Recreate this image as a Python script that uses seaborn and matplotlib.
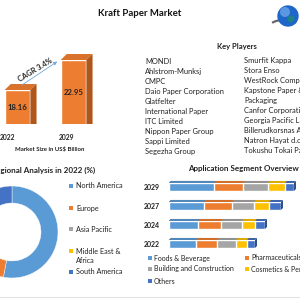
import numpy as np
import pandas as pd
import seaborn as sns
import matplotlib.pyplot as plt
from matplotlib.patches import Polygon, Circle, Arc
import matplotlib.colors as mcolors

sns.set_style('white')
plt.rcParams['font.family'] = ['Lato', 'DejaVu Sans']

# market size
years = ['2022', '2029']
market_size = [18.16, 22.95]
cagr_text = 'CAGR 3.4%'

# key players
players_left = ['MONDI', 'Ahlstrom-Munksj', 'CMPC', 'Daio Paper Corporation', 'Glatfelter',
                'International Paper', 'ITC Limited', 'Nippon Paper Group', 'Sappi Limited',
                'Segezha Group']
players_right = ['Smurfit Kappa', 'Stora Enso', 'WestRock Company', 'Kapstone Paper &',
                 'Packaging', 'Canfor Corporation', 'Georgia Pacific LLC',
                 'Billerudkorsnas AB', 'Natron Hayat d.o.o', 'Tokushu Tokai Paper']

# regional share 2022 (%)
regions = ['North America', 'Europe', 'Asia Pacific', 'Middle East &\nAfrica', 'South America']
region_share = [53, 19, 17, 4, 7]

# application segments
app_years = ['2029', '2027', '2024', '2022']
segments = ['Foods & Beverage', 'Pharmaceuticals', 'Building and Construction',
            'Cosmetics & Personal Care', 'Others']
foods = [45, 35, 29, 27]
pharma = [29, 28, 23, 21]
building = [25, 22, 21, 19]
cosmetics = [17, 15, 13, 11]
others = [9, 12, 10, 8]

pal = ['#5B9BD5', '#ED7D31', '#A5A5A5', '#FFC000', '#4472C4']


def shade(c, f):
    r, g, b = mcolors.to_rgb(c)
    return (r * f, g * f, b * f)


fig = plt.figure(figsize=(3, 3), dpi=100)
fig.patch.set_facecolor('white')


def px_axes(x0, y0, x1, y1):
    return fig.add_axes([x0 / 300, 1 - y1 / 300, (x1 - x0) / 300, (y1 - y0) / 300])


# ---- market size bars (3D look) ----
ax1 = px_axes(0, 40, 100, 124)
sns.barplot(x=years, y=market_size, color='#ED7D31', width=0.46, saturation=1, ax=ax1)
ybot = 12.73
ax1.set_xlim(-0.3125, 1.473)
ax1.set_ylim(ybot, 26.15)
ax1.axis('off')
dx, dy = 0.11, 0.96
for p in ax1.patches:
    x, w, h = p.get_x(), p.get_width(), p.get_height()
    ax1.add_patch(Polygon([(x, h), (x + w, h), (x + w + dx, h + dy), (x + dx, h + dy)],
                          closed=True, color='#D9722B', lw=0))
    ax1.add_patch(Polygon([(x + w, 0), (x + w, h), (x + w + dx, h + dy), (x + w + dx, dy)],
                          closed=True, color='#B0561A', lw=0))
    ax1.text(x + w / 2, (h + ybot) / 2, f'{h:.2f}', ha='center', va='center',
             fontsize=5.6, fontweight='bold', color='#222222')
p0, p1 = ax1.patches[0], ax1.patches[1]
ax1.annotate('', xy=(p1.get_x() - 0.02, market_size[1]),
             xytext=(p0.get_x() + p0.get_width() / 2 + 0.03, market_size[0] + 0.5),
             arrowprops=dict(arrowstyle='-|>', color='#6FA8DC', lw=0.6, mutation_scale=5))
ax1.text(0.31, 21.35, cagr_text, rotation=31, ha='center', va='center',
         fontsize=5.4, color='#222222', fontweight='bold')

# ---- donut ----
ax2 = px_axes(-34, 186, 58, 278)
ax2.pie(region_share, colors=pal, startangle=90, counterclock=False,
        wedgeprops=dict(width=0.37, edgecolor='white', linewidth=0.3))
ax2.set_xlim(-1, 1)
ax2.set_ylim(-1, 1)

# ---- application segment stacked bars ----
ax3 = px_axes(160, 175, 300, 255)
seg_vals = np.array([foods, pharma, building, cosmetics, others]).T
cum = np.cumsum(seg_vals, axis=1)
df = pd.DataFrame(cum, columns=segments)
df['year'] = app_years
ddx, ddy = 2.0, 0.105
for k, i in enumerate(range(len(segments) - 1, -1, -1)):
    n0 = len(ax3.patches)
    sns.barplot(data=df, x=segments[i], y='year', orient='h', color=pal[i],
                width=0.42, saturation=1, ax=ax3)
    for p in ax3.patches[n0:]:
        z = 2 + 2 * k
        p.set_zorder(z)
        x0, y0, w, h = p.get_x(), p.get_y(), p.get_width(), p.get_height()
        ax3.add_patch(Polygon([(x0, y0), (x0 + w, y0), (x0 + w + ddx, y0 - ddy), (x0 + ddx, y0 - ddy)],
                              closed=True, color=shade(pal[i], 0.88), lw=0, zorder=z + 1))
        if k == 0:
            ax3.add_patch(Polygon([(x0 + w, y0), (x0 + w, y0 + h), (x0 + w + ddx, y0 + h - ddy),
                                   (x0 + w + ddx, y0 - ddy)],
                                  closed=True, color=shade(pal[i], 0.7), lw=0, zorder=z + 1))
ax3.set_xlim(-9, 131)
ax3.set_ylim(3.58, -0.63)
ax3.set_xlabel('')
ax3.set_ylabel('')
ax3.set_xticks([])
sns.despine(ax=ax3, left=True, bottom=True)
ax3.tick_params(axis='y', length=0, pad=0, labelsize=5)
for t in ax3.get_yticklabels():
    t.set_fontweight('bold')
    t.set_color('#222222')

# ---- overlay for text and decoration ----
ov = fig.add_axes([0, 0, 1, 1])
ov.set_xlim(0, 300)
ov.set_ylim(300, 0)
ov.axis('off')

ov.text(140, 13, 'Kraft Paper Market', ha='center', va='center', fontsize=6.9,
        fontweight='bold', color='#111111')

# globe
ov.add_patch(Arc((284, 25), 26, 10, theta1=190, theta2=350, color='#666666', lw=1.6))
ov.add_patch(Circle((288, 16), 10, color='#1F66C9'))
ov.add_patch(Circle((285, 12), 5, color='#8CC0F5', alpha=0.55, lw=0))
ov.add_patch(Circle((291, 19), 3.5, color='#1E9E4A', alpha=0.5, lw=0))

# market size labels
ov.text(8, 137, years[0], ha='center', va='center', fontsize=4.9, fontweight='bold', color='#222222')
ov.text(67, 137, years[1], ha='center', va='center', fontsize=4.9, fontweight='bold', color='#222222')
ov.text(50, 149, 'Market Size in US$ Billion', ha='center', va='center', fontsize=4.3,
        fontweight='bold', color='#222222')

# key players
ov.text(237, 47, 'Key Players', ha='center', va='center', fontsize=5.5,
        fontweight='bold', color='#222222')
for j, name in enumerate(players_left):
    ov.text(145, 62 + j * 9.9, name, ha='left', va='center', fontsize=5.4, color='#222222')
for j, name in enumerate(players_right):
    ov.text(244, 61 + j * 9.9, name, ha='left', va='center', fontsize=5.4, color='#222222')

# regional legend
ov.text(95, 170, 'Regional Analysis in 2022 (%)', ha='right', va='center', fontsize=5.8,
        fontweight='bold', color='#222222')
leg_y = [186, 208, 229, 251, 272]
for name, c, y in zip(regions, pal, leg_y):
    ov.scatter([71], [y], marker='s', s=5, color=c, lw=0)
    if '\n' in name:
        ov.text(76, y - 3.5, name, ha='left', va='top', fontsize=5.2, color='#222222', linespacing=1.45)
    else:
        ov.text(76, y, name, ha='left', va='center', fontsize=5.2, color='#222222')

# application legend
ov.text(243, 169, 'Application Segment Overview', ha='center', va='center', fontsize=5.8,
        fontweight='bold', color='#222222')
app_leg = [(150, 258), (247, 258), (150, 269), (247, 269), (150, 281)]
for name, c, (x, y) in zip(segments, pal, app_leg):
    ov.scatter([x], [y], marker='s', s=5, color=c, lw=0)
    ov.text(x + 4, y, name, ha='left', va='center', fontsize=5.0, color='#222222')

ov.plot([0, 300], [296.5, 296.5], color='#E2E2E2', lw=0.8)

fig.savefig('out.png', dpi=100)
